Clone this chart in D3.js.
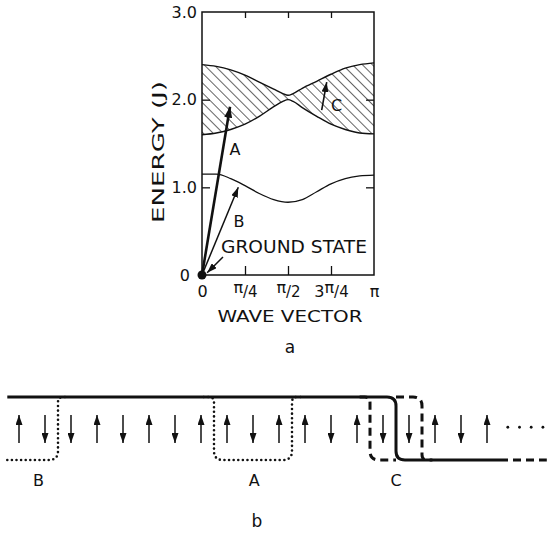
<!DOCTYPE html>
<html><head><meta charset="utf-8">
<script src="https://cdn.jsdelivr.net/npm/d3@7"></script>
<style>
html,body{margin:0;padding:0;background:#fff;}
svg{display:block;}
text{font-family:"DejaVu Sans",sans-serif;fill:#111;}
</style>
</head><body>
<svg id="c" width="551" height="533"></svg>
<script>
// ---------- data: panel a (wave vector in units of pi, energy in J) ----------
const bandK     = [0, 0.083, 0.167, 0.25, 0.333, 0.417, 0.47, 0.5, 0.53, 0.583, 0.667, 0.75, 0.833, 0.917, 1];
const bandUpper = [2.40, 2.38, 2.34, 2.28, 2.20, 2.12, 2.07, 2.05, 2.07, 2.13, 2.21, 2.29, 2.36, 2.40, 2.42];
const bandLower = [1.60, 1.62, 1.66, 1.72, 1.81, 1.92, 1.98, 2.00, 1.98, 1.91, 1.81, 1.72, 1.66, 1.62, 1.61];
const lowK      = [0, 0.083, 0.167, 0.25, 0.333, 0.417, 0.5, 0.583, 0.667, 0.75, 0.833, 0.917, 1];
const lowBranch = [1.15, 1.15, 1.10, 1.02, 0.93, 0.86, 0.83, 0.86, 0.95, 1.04, 1.10, 1.13, 1.14];
const yTickValues = [0, 1, 2, 3];
const yTickLabels = ["0", "1.0", "2.0", "3.0"];
const xTickValues = [0, 0.25, 0.5, 0.75, 1];
const xTickLabels = ["0", "π/4", "π/2", "3π/4", "π"];
// arrows: [from k, from E, to k, to E]
const arrowA = [0, 0, 0.163, 1.92];
const arrowB = [0, 0, 0.211, 1.00];
const arrowGround = [0.122, 0.205, 0.03, 0.025];
const arrowC = [0.696, 1.88, 0.725, 2.20];
const pointLabels = [{t:"A", k:0.192, e:1.44}, {t:"B", k:0.215, e:0.61}, {t:"C", k:0.782, e:1.94}];

// ---------- data: panel b (spin chain) ----------
const spins = ["up","down","down","up","down","up","down","up","up","down","up","up","down","up","down","down","up","down","up"];
const contDots = [18.8, 19.25, 19.7, 20.15];
// wall outlines: [site, level] with level 0 = top rail, 1 = bottom rail
const solidPath  = [[-0.45,0],[14.5,0],[14.5,1],[18.5,1]];
const dashedTail = [[18.5,1],[20.3,1]];
const dottedB    = [[-0.45,1],[1.5,1],[1.5,0],[1.9,0]];
const dottedA    = [[7.1,0],[7.5,0],[7.5,1],[10.5,1],[10.5,0],[10.9,0]];
const dashedC1   = [[13.1,0],[13.5,0],[13.5,1],[14.5,1]];
const dashedC2   = [[14.5,0],[15.5,0],[15.5,1],[15.9,1]];
const chainLabels = [{t:"B", s:0.75}, {t:"A", s:9.05}, {t:"C", s:14.5}];

const svg = d3.select("#c");
const defs = svg.append("defs");
defs.append("pattern").attr("id","hatch").attr("patternUnits","userSpaceOnUse")
  .attr("width",7).attr("height",7).attr("patternTransform","rotate(-45)")
  .append("line").attr("x1",0).attr("y1",0).attr("x2",0).attr("y2",7)
  .attr("stroke","#111").attr("stroke-width",1.3);
function marker(id, w, h){
  defs.append("marker").attr("id",id).attr("markerUnits","userSpaceOnUse")
    .attr("viewBox",`0 0 ${h} ${w}`).attr("refX",h).attr("refY",w/2)
    .attr("markerWidth",h).attr("markerHeight",w).attr("orient","auto")
    .append("path").attr("d",`M0,0L${h},${w/2}L0,${w}Z`).attr("fill","#111");
}
marker("headBig", 8, 11);
marker("headSmall", 7, 10);

// ---------- panel a ----------
const x = d3.scaleLinear().domain([0,1]).range([202,374]);
const y = d3.scaleLinear().domain([0,3]).range([275,12]);

const area = d3.area().x((d,i)=>x(bandK[i])).y0((d,i)=>y(bandLower[i])).y1((d,i)=>y(bandUpper[i])).curve(d3.curveMonotoneX);
svg.append("path").datum(bandK).attr("d",area).attr("fill","url(#hatch)").attr("stroke","none");
const lineU = d3.line().x((d,i)=>x(bandK[i])).y(d=>y(d)).curve(d3.curveMonotoneX);
svg.append("path").datum(bandUpper).attr("d",lineU).attr("fill","none").attr("stroke","#111").attr("stroke-width",1.4);
svg.append("path").datum(bandLower).attr("d",lineU).attr("fill","none").attr("stroke","#111").attr("stroke-width",1.4);
const lineL = d3.line().x((d,i)=>x(lowK[i])).y(d=>y(d)).curve(d3.curveMonotoneX);
svg.append("path").datum(lowBranch).attr("d",lineL).attr("fill","none").attr("stroke","#111").attr("stroke-width",1.3);

// frame
svg.append("rect").attr("x",x(0)).attr("y",y(3)).attr("width",x(1)-x(0)).attr("height",y(0)-y(3))
  .attr("fill","none").attr("stroke","#111").attr("stroke-width",1.5);

// axes with inward ticks
const gL = svg.append("g").attr("transform",`translate(${x(0)},0)`)
  .call(d3.axisLeft(y).tickValues(yTickValues).tickSize(-8).tickPadding(5)
    .tickFormat((d,i)=>yTickLabels[i]));
gL.select(".domain").remove();
gL.selectAll(".tick line").attr("stroke","#111").attr("stroke-width",1.3)
  .attr("display",d=>(d===0||d===3)?"none":null);
gL.selectAll(".tick text").attr("font-size",16).attr("fill","#111")
  .attr("font-family","DejaVu Sans, sans-serif")
  .attr("dx",d=>d===0?-7:0);

const gR = svg.append("g").attr("transform",`translate(${x(1)},0)`)
  .call(d3.axisRight(y).tickValues([1,2]).tickSize(-8).tickFormat(""));
gR.select(".domain").remove();
gR.selectAll(".tick line").attr("stroke","#111").attr("stroke-width",1.3);

const gT = svg.append("g").attr("transform",`translate(0,${y(3)})`)
  .call(d3.axisTop(x).tickValues([0.25,0.5,0.75]).tickSize(-6).tickFormat(""));
gT.select(".domain").remove();
gT.selectAll(".tick line").attr("stroke","#111").attr("stroke-width",1.3);

const gB = svg.append("g").attr("transform",`translate(0,${y(0)})`)
  .call(d3.axisBottom(x).tickValues(xTickValues).tickSize(-9).tickPadding(10).tickFormat((d,i)=>xTickLabels[i]));
gB.select(".domain").remove();
gB.selectAll(".tick line").attr("stroke","#111").attr("stroke-width",1.3)
  .attr("display",d=>(d===0||d===1)?"none":null);
gB.selectAll(".tick text").each(function(d,i){
  const t = d3.select(this);
  const lab = xTickLabels[i];
  t.text(null).attr("font-size",16).attr("fill","#111").attr("font-family","DejaVu Sans, sans-serif")
   .attr("y",22).attr("dy",null);
  const pi = lab.indexOf("π");
  if (pi < 0) { t.text(lab); return; }
  const pre = lab.slice(0,pi), rest = lab.slice(pi+1);
  if (pre) t.append("tspan").text(pre);
  t.append("tspan").attr("dy", rest ? -4 : 0).text("π");
  if (rest) t.append("tspan").attr("dy",4).attr("font-size",15).text(rest);
});

// arrows
function arrow(a, w, mk){
  svg.append("line").attr("x1",x(a[0])).attr("y1",y(a[1])).attr("x2",x(a[2])).attr("y2",y(a[3]))
    .attr("stroke","#111").attr("stroke-width",w).attr("marker-end",`url(#${mk})`);
}
arrow(arrowA, 2.6, "headBig");
arrow(arrowB, 1.5, "headSmall");
arrow(arrowGround, 1.5, "headSmall");
arrow(arrowC, 1.6, "headSmall");
svg.append("circle").attr("cx",x(0)).attr("cy",y(0)).attr("r",4.5).attr("fill","#111");

svg.selectAll("text.pl").data(pointLabels).join("text").attr("class","pl")
  .attr("x",d=>x(d.k)).attr("y",d=>y(d.e)).attr("dy","0.36em").attr("text-anchor","middle")
  .attr("font-size",16).text(d=>d.t);
svg.append("text").attr("x",294).attr("y",253).attr("text-anchor","middle")
  .attr("font-size",17).attr("textLength",146).attr("lengthAdjust","spacingAndGlyphs").text("GROUND STATE");

svg.append("text").attr("transform","translate(164,152) rotate(-90)").attr("text-anchor","middle")
  .attr("font-size",15).attr("textLength",142).attr("lengthAdjust","spacingAndGlyphs").text("ENERGY (J)");
svg.append("text").attr("x",290).attr("y",322).attr("text-anchor","middle")
  .attr("font-size",16).attr("textLength",145).attr("lengthAdjust","spacingAndGlyphs").text("WAVE VECTOR");
svg.append("text").attr("x",290).attr("y",353).attr("text-anchor","middle").attr("font-size",17).text("a");

// ---------- panel b ----------
const sx = d3.scaleLinear().domain([0,18]).range([19,487]);
const ly = d3.scaleLinear().domain([0,1]).range([397,460]);

function rounded(pts, r){
  const P = pts.map(p=>[sx(p[0]), ly(p[1])]);
  let d = `M${P[0][0]},${P[0][1]}`;
  for (let i=1;i<P.length-1;i++){
    const a=P[i-1], b=P[i], c=P[i+1];
    const d1=Math.hypot(b[0]-a[0],b[1]-a[1]), d2=Math.hypot(c[0]-b[0],c[1]-b[1]);
    const rr=Math.min(r,d1/2,d2/2);
    const p1=[b[0]+(a[0]-b[0])*rr/d1, b[1]+(a[1]-b[1])*rr/d1];
    const p2=[b[0]+(c[0]-b[0])*rr/d2, b[1]+(c[1]-b[1])*rr/d2];
    d += `L${p1[0]},${p1[1]}Q${b[0]},${b[1]} ${p2[0]},${p2[1]}`;
  }
  const L=P[P.length-1];
  d += `L${L[0]},${L[1]}`;
  return d;
}
function outline(pts, style){
  const p = svg.append("path").attr("d",rounded(pts,9)).attr("fill","none").attr("stroke","#111");
  if (style==="solid") p.attr("stroke-width",3);
  if (style==="dashed") p.attr("stroke-width",3).attr("stroke-dasharray","8,5");
  if (style==="dotted") p.attr("stroke-width",2.6).attr("stroke-dasharray","0,4.6").attr("stroke-linecap","round");
}
outline(solidPath,"solid");
outline(dashedTail,"dashed");
outline(dottedB,"dotted");
outline(dottedA,"dotted");
outline(dashedC1,"dashed");
outline(dashedC2,"dashed");

marker("spinHead", 7, 10);
svg.selectAll("line.spin").data(spins).join("line").attr("class","spin")
  .attr("x1",(d,i)=>sx(i)).attr("x2",(d,i)=>sx(i))
  .attr("y1",d=>d==="up"?443:415).attr("y2",d=>d==="up"?415:443)
  .attr("stroke","#111").attr("stroke-width",1.5).attr("marker-end","url(#spinHead)");
svg.selectAll("circle.cd").data(contDots).join("circle").attr("class","cd")
  .attr("cx",d=>sx(d)).attr("cy",ly(0.48)).attr("r",1.4).attr("fill","#111");

svg.selectAll("text.cl").data(chainLabels).join("text").attr("class","cl")
  .attr("x",d=>sx(d.s)).attr("y",486).attr("text-anchor","middle").attr("font-size",16).text(d=>d.t);
svg.append("text").attr("x",257).attr("y",527).attr("text-anchor","middle").attr("font-size",17).text("b");
</script>
</body></html>
